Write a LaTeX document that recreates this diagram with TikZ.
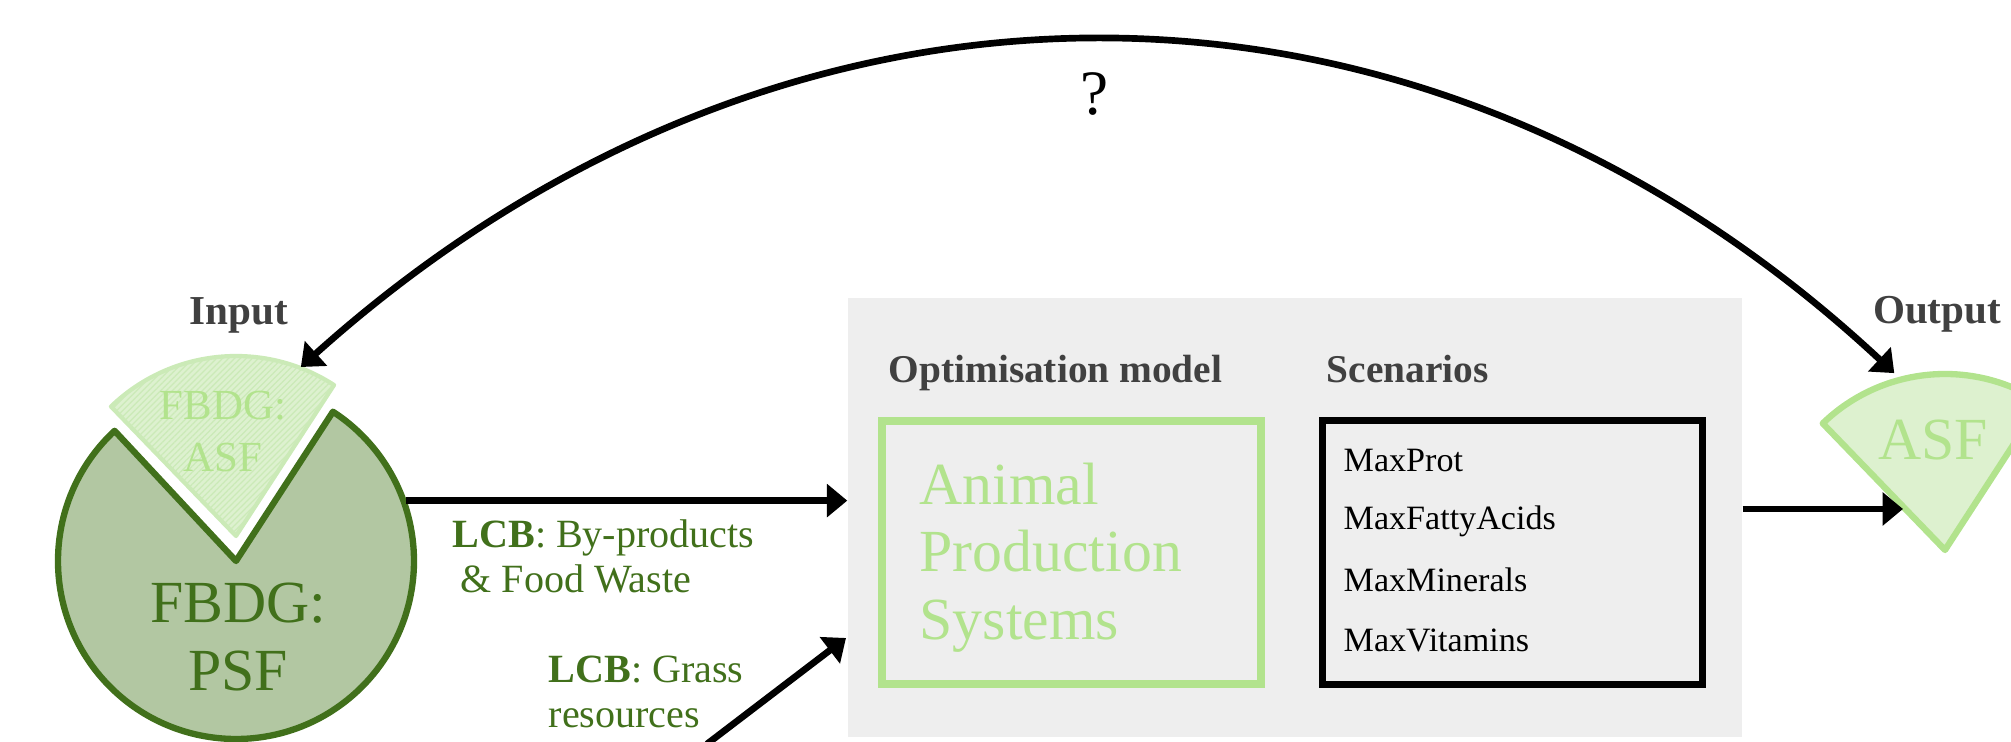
\documentclass[tikz,border=0pt]{standalone}
\usepackage{fontspec}
\setmainfont{Liberation Serif}
\usetikzlibrary{arrows.meta,patterns.meta,calc}

\definecolor{darkgreen}{HTML}{41701B}
\definecolor{psffill}{HTML}{B2C7A2}
\definecolor{lightgreen}{HTML}{B2E38D}
\definecolor{asffill}{HTML}{DDF1CF}
\definecolor{hatchgreen}{HTML}{CBEAB7}
\definecolor{greybg}{HTML}{EEEEEE}
\definecolor{headgrey}{HTML}{404040}

\begin{document}
\begin{tikzpicture}[
    head/.style={font=\fontsize{11.7}{14}\selectfont\bfseries, text=headgrey, inner sep=0, anchor=base},
    subhead/.style={font=\fontsize{11.2}{13}\selectfont\bfseries, text=headgrey, inner sep=0, anchor=base west},
    bigtext/.style={font=\fontsize{17}{19.3}\selectfont, inner sep=0},
    lcb/.style={font=\fontsize{11.4}{12.8}\selectfont, text=darkgreen, align=left, inner sep=0, anchor=north west},
    scen/.style={font=\fontsize{9.7}{11}\selectfont, inner sep=0, anchor=base west},
    flow/.style={line width=1.9pt, -{Triangle[length=5.8pt,width=9.2pt]}},
    ]
    \useasboundingbox (0,0) rectangle (20.11,7.42);
    \pgfmathsetmacro{\pier}{1.78}  % radius of the pie pieces
    \pgfmathsetmacro{\wedger}{1.8}

    % model background and boxes
    \node[fill=greybg, minimum width=8.94cm, minimum height=4.39cm, inner sep=0] (model) at (12.95,2.245) {};
    \node[draw=lightgreen, line width=2pt, minimum width=3.79cm, minimum height=2.63cm, inner sep=0] (aps) at (10.715,1.895) {};
    \node[draw=black, line width=1.8pt, minimum width=3.80cm, minimum height=2.64cm, inner sep=0] (scenbox) at (15.125,1.895) {};
    \node[subhead] (optlab) at (8.88,3.59) {Optimisation model};
    \node[subhead] (scenlab) at (13.26,3.59) {Scenarios};
    \node[bigtext, text=lightgreen, align=left, anchor=north west] (apstext) at (9.19,2.80) {Animal\\Production\\Systems};
    \foreach \s/\y [count=\i] in {MaxProt/2.70, MaxFattyAcids/2.12, MaxMinerals/1.50, MaxVitamins/0.90}
        \node[scen] (sc\i) at (13.43,\y) {\s};

    % input pie
    \coordinate (psfc) at (2.36,1.81);
    \coordinate (asfin) at (2.36,2.06);
    \filldraw[fill=psffill, draw=darkgreen, line width=1.8pt, line join=round]
        (psfc) -- ++(133:\pier) arc[start angle=133, end angle=417, radius=\pier] -- cycle;
    \draw[draw=hatchgreen, line width=1.2pt, line join=round, preaction={fill=asffill},
        pattern={Lines[angle=45,distance=1.2pt,line width=0.35pt]}, pattern color=hatchgreen]
        (asfin) -- ++(57:\wedger) arc[start angle=57, end angle=134, radius=\wedger] -- cycle;
    \node[font=\fontsize{12.2}{14.8}\selectfont, text=lightgreen, align=center, anchor=north, inner sep=0] (asf) at (2.23,3.52) {FBDG:\\ASF};
    \node[bigtext, text=darkgreen, align=center, anchor=north] (psf) at (2.38,1.60) {FBDG:\\PSF};
    \node[head] (inlab) at (2.39,4.17) {Input};

    % output pie
    \coordinate (outc) at (19.45,1.92);
    \filldraw[fill=asffill, draw=lightgreen, line width=1.8pt, line join=round]
        (outc) -- ++(57:1.76) arc[start angle=57, end angle=134, radius=1.76] -- cycle;
    \node[bigtext, text=lightgreen, anchor=base] (asfout) at (19.33,2.82) {ASF};
    \node[head] (outlab) at (19.37,4.18) {Output};

    % arrows
    \coordinate (psfe) at ($(psfc)+(19.6:1.8)$);
    \coordinate (outw) at (19.03,2.33);
    \coordinate (grass) at (7.07,-0.02);
    \coordinate (grassend) at (8.46,1.04);
    \coordinate (intip) at ($(asfin)+(69:1.81)$);
    \coordinate (outtip) at ($(outc)+(106:1.84)$);
    \draw[flow] (psfe) -- (model.west |- psfe);
    \draw[flow] (grass) -- (grassend);
    \draw[flow] (model.east |- outw) -- (outw);
    \draw[line width=1.9pt, {Triangle[length=5.8pt,width=9.2pt]}-{Triangle[length=5.8pt,width=9.2pt]}]
        (intip) .. controls (7.84,8.09) and (14.19,8.12) .. (outtip);
    \node[font=\fontsize{18}{20}\selectfont, inner sep=0, anchor=base] (qmark) at (10.95,6.27) {?};

    \node[lcb] (lcbwaste) at (4.52,2.23) {\textbf{LCB}: By-products\\\hspace*{2.3pt}\& Food Waste};
    \node[lcb] (lcbgrass) at (5.48,0.87) {\textbf{LCB}: Grass\\resources};
\end{tikzpicture}
\end{document}
